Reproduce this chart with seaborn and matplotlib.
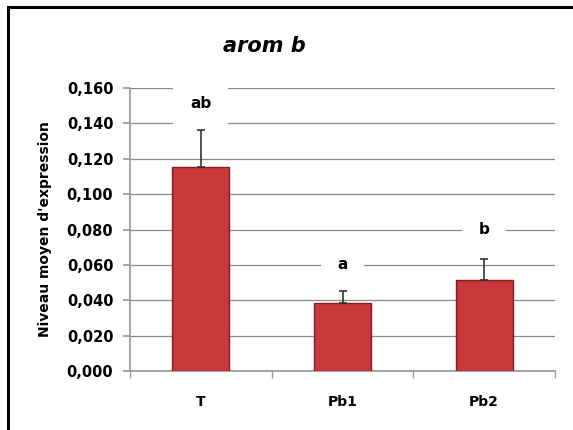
import matplotlib
matplotlib.use("Agg")
import matplotlib.pyplot as plt
import matplotlib.patches as mpatches
from matplotlib.ticker import FuncFormatter, MultipleLocator
import seaborn as sns
import pandas as pd
import numpy as np

categories = ["T", "Pb1", "Pb2"]
means = [0.1155, 0.0385, 0.0515]
errors = [0.0205, 0.0065, 0.0118]
letters = ["ab", "a", "b"]
letter_y = [0.1515, 0.060, 0.080]
title = "arom b"
ylabel = "Niveau moyen d'expression"

sns.set_theme(style="white")
plt.rcParams['font.family'] = ['DejaVu Sans']
plt.rcParams['text.color'] = 'black'
plt.rcParams['axes.labelcolor'] = 'black'
plt.rcParams['xtick.color'] = 'black'
plt.rcParams['ytick.color'] = 'black'

fig = plt.figure(figsize=(5.73, 4.30), dpi=100)
ax = fig.add_axes([130/573, 1-371/430, (555-130)/573, (371-88)/430])

df = pd.DataFrame({"cat": categories, "val": means})
sns.barplot(data=df, x="cat", y="val", ax=ax, color="#C9383A", width=0.40,
            edgecolor="#8A1C1C", linewidth=1.0, saturation=1, errorbar=None, zorder=3)

xs = np.arange(len(categories))
ax.errorbar(xs, means, yerr=[np.zeros(len(errors)), errors], fmt="none",
            ecolor="#333333", elinewidth=1.2, capsize=3, capthick=1.2, zorder=4)

for x, t, yy in zip(xs, letters, letter_y):
    ax.text(x, yy, t, ha="center", va="center", fontsize=11, fontweight="bold",
            color="black", zorder=5,
            bbox=dict(boxstyle="square,pad=1.1", fc="white", ec="none"))

ax.set_ylim(0, 0.16)
ax.set_xlim(-0.5, 2.5)
ax.yaxis.set_major_locator(MultipleLocator(0.02))
ax.yaxis.set_major_formatter(FuncFormatter(lambda v, p: f"{v:.3f}".replace(".", ",")))
ax.grid(axis="y", color="#8a8a8a", linewidth=0.9, zorder=0)
ax.set_axisbelow(True)

for s in ["top", "right"]:
    ax.spines[s].set_visible(False)
ax.spines["left"].set_color("#9a9a9a")
ax.spines["bottom"].set_color("#9a9a9a")

ax.set_xlabel("")
ax.set_ylabel(ylabel, fontsize=10, fontweight="bold", color="black")
ax.yaxis.set_label_coords((52-130)/425, 0.5)
ax.tick_params(axis="y", which="major", left=True, length=5, color="#9a9a9a",
               labelcolor="black", labelsize=10.5, pad=7)
for lab in ax.get_yticklabels():
    lab.set_fontweight("bold")
ax.set_xticks(xs)
ax.set_xticklabels(categories, fontsize=10, fontweight="bold")
ax.set_xticks([-0.5, 0.5, 1.5, 2.5], minor=True)
ax.tick_params(axis="x", which="minor", bottom=True, length=5, color="#9a9a9a", direction="out")
ax.tick_params(axis="x", which="major", bottom=False, labelcolor="black", pad=11)

fig.text(264/573, 1-46/430, title, ha="center", va="center", fontsize=15,
         fontweight="bold", fontstyle="italic", color="black")

fig.patches.append(mpatches.Rectangle((8/573, -0.05), 1.2, 1-7/430+0.05,
                   transform=fig.transFigure, fill=False, ec="black", lw=2.2))

fig.savefig("out.png", dpi=100)
